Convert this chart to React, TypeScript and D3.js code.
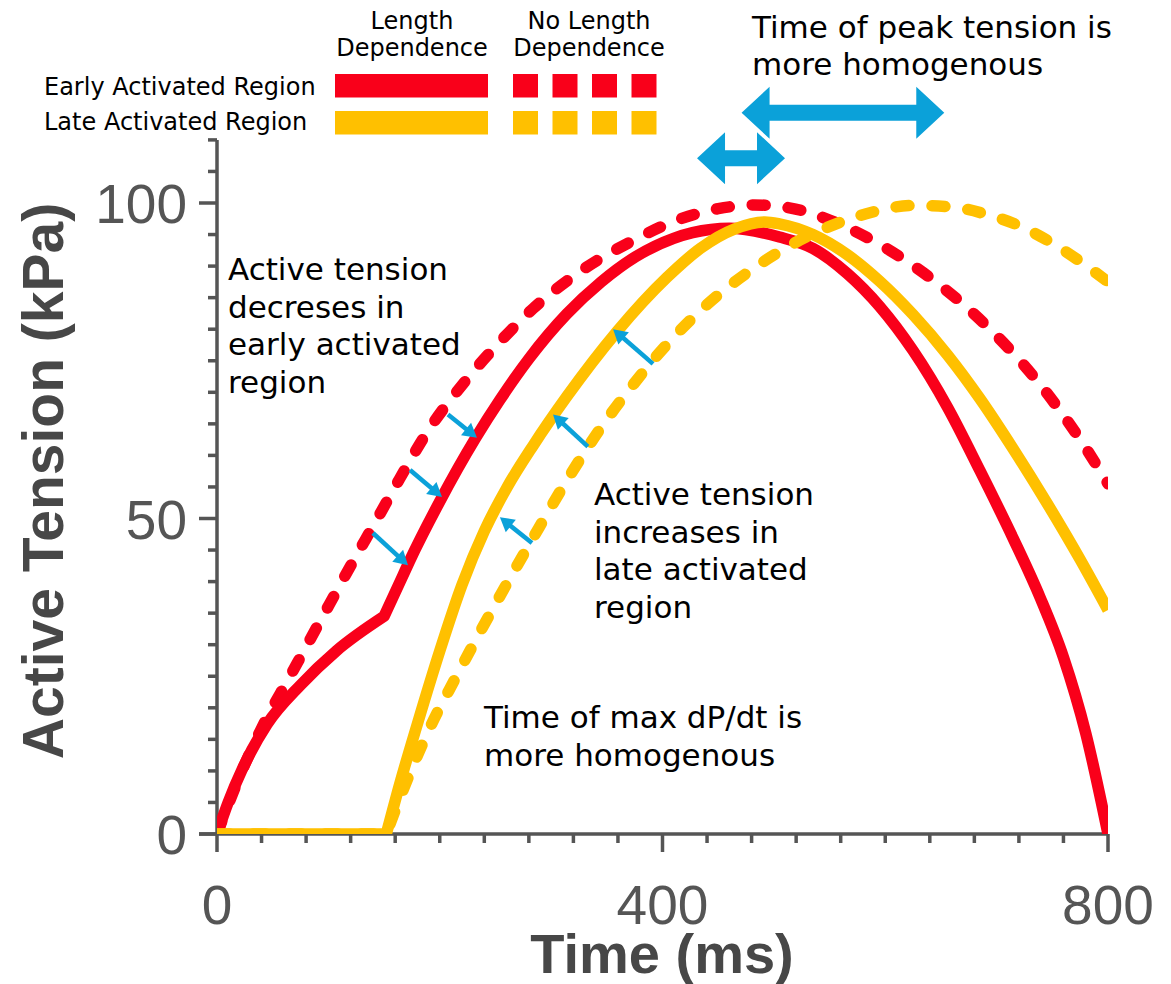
import React from "react";
import * as d3 from "d3";

// ---------- data (time in ms, active tension in kPa) ----------
const earlyLDTime = [0, 10, 23, 45, 75, 107, 150, 167, 173, 200, 232, 254, 280, 314, 345, 376, 410, 427, 460, 505, 535, 566, 595, 625, 656, 685, 715, 739, 760, 780, 800];
const earlyLDTension = [0, 5, 10.4, 17.4, 23.6, 29, 34.5, 41, 43.3, 52.7, 62.7, 68.8, 75.3, 82.4, 87.5, 91.5, 94.4, 95.3, 96, 94.6, 92.8, 88.8, 83.6, 76.6, 67.6, 57.6, 46.8, 37.5, 28, 16, 0];

const earlyNLDTime = [0, 20, 45, 64, 77, 95, 119, 144, 164, 188, 224, 254, 284, 329, 373, 418, 450, 482, 515, 550, 583, 613, 643, 667, 694, 718, 741, 763, 781, 800];
const earlyNLDTension = [0, 9, 18.5, 24.5, 28.7, 34.5, 42.2, 50, 56.3, 63.5, 72, 78, 83.3, 89.5, 94, 97.6, 99.1, 99.7, 99.2, 97.3, 94.6, 91.5, 87.8, 84.4, 80, 75.6, 70.8, 65.6, 60.9, 55.5];

const lateLDTime = [0, 152, 165, 180, 200, 220, 240, 260, 284, 314, 359, 404, 434, 465, 492, 505, 535, 566, 595, 625, 656, 685, 715, 745, 775, 800];
const lateLDTension = [0, 0, 8.5, 17.5, 29, 39.5, 48, 54.8, 61.6, 69.3, 79.6, 88.2, 92.8, 95.9, 97, 96.7, 95, 91.8, 87.6, 82.3, 75.9, 69, 61, 52.5, 43.5, 35.5];

const lateNLDTime = [0, 152, 166, 176, 191, 215, 227, 248, 269, 284, 314, 344, 374, 404, 440, 489, 520, 553, 583, 625, 658, 691, 724, 754, 784, 800];
const lateNLDTension = [0, 0, 6.5, 10.8, 16.8, 25, 29, 35.8, 42.4, 47, 56, 64.2, 71.3, 77.6, 83.9, 90.5, 93.8, 96.5, 98.3, 99.6, 99.4, 98.2, 96.1, 93.2, 89.6, 87.5];

// activation onset (ms) where each trace has a corner
const earlyOnsetBreak = 150;
const lateOnsetBreak = 152;

// small blue arrows: from (time, tension) to (time, tension)
const shiftFromTime = [140, 173.3, 207.4, 282.8, 333, 391.5];
const shiftFromTension = [47.7, 57.7, 66.5, 46.1, 61.4, 74.5];
const shiftToTime = [171.5, 202, 233.4, 254, 301.7, 355.6];
const shiftToTension = [42.6, 53.4, 62.8, 50.2, 66.5, 80];

// peak-time spread arrows: [start, end] in ms, at a tension level
const peakSpreadStart = [431, 471];
const peakSpreadEnd = [510, 653];
const peakSpreadLevel = [107.1, 114.3];

const xMajorTicks = [0, 400, 800];
const yMajorTicks = [0, 50, 100];
const xTickLabels = ["0", "400", "800"];
const yTickLabels = ["0", "50", "100"];

const legendRowLabels = ["Early Activated Region", "Late Activated Region"];
const legendColumnTitles = [["Length", "Dependence"], ["No Length", "Dependence"]];

const noteDecrease = ["Active tension", "decreses in", "early activated", "region"];
const noteIncrease = ["Active tension", "increases in", "late activated", "region"];
const noteDpDt = ["Time of max dP/dt is", "more homogenous"];
const notePeak = ["Time of peak tension is", "more homogenous"];

// ---------- styling ----------
const RED = "#f9001a";
const GOLD = "#ffc000";
const BLUE = "#0ba1d9";
const AXIS = "#555555";
const W = 1171;
const H = 984;

type Pt = { t: number; v: number };
const zip = (t: number[], v: number[]): Pt[] => t.map((d, i) => ({ t: d, v: v[i] }));

export default function App() {
  const x = d3.scaleLinear().domain([0, 800]).range([217, 1108]);
  const y = d3.scaleLinear().domain([0, 100]).range([834, 203]);

  const line = d3
    .line<Pt>()
    .x((d) => x(d.t))
    .y((d) => y(d.v))
    .curve(d3.curveMonotoneX);

  // path with a sharp corner at the break time
  const brokenPath = (data: Pt[], breakT: number) => {
    const k = data.findIndex((d) => d.t === breakT);
    if (k < 0) return line(data) || "";
    const a = line(data.slice(0, k + 1)) || "";
    const b = (line(data.slice(k)) || "").replace(/^M/, "L");
    return a + b;
  };

  const series = [
    { data: zip(earlyNLDTime, earlyNLDTension), color: RED, dashed: true, brk: -1 },
    { data: zip(earlyLDTime, earlyLDTension), color: RED, dashed: false, brk: earlyOnsetBreak },
    { data: zip(lateLDTime, lateLDTension), color: GOLD, dashed: false, brk: lateOnsetBreak },
    { data: zip(lateNLDTime, lateNLDTension), color: GOLD, dashed: true, brk: lateOnsetBreak },
  ];

  const xMinor = d3.range(0, 801, 40).filter((t) => !xMajorTicks.includes(t));
  const yMinor = d3.range(0, 111, 5).filter((v) => !yMajorTicks.includes(v));

  const doubleArrow = (x1: number, x2: number, yc: number) => {
    const half = 8, hl = 28, hh = 26;
    return `M${x1},${yc} L${x1 + hl},${yc - hh} L${x1 + hl},${yc - half} L${x2 - hl},${yc - half} L${x2 - hl},${yc - hh} L${x2},${yc} L${x2 - hl},${yc + hh} L${x2 - hl},${yc + half} L${x1 + hl},${yc + half} L${x1 + hl},${yc + hh} Z`;
  };

  const smallArrows = shiftFromTime.map((_, i) => {
    const x1 = x(shiftFromTime[i]);
    const y1 = y(shiftFromTension[i]);
    const x2 = x(shiftToTime[i]);
    const y2 = y(shiftToTension[i]);
    const len = Math.hypot(x2 - x1, y2 - y1);
    const ux = (x2 - x1) / len;
    const uy = (y2 - y1) / len;
    const nx = -uy;
    const ny = ux;
    const hl = 14, hw = 8;
    const bx = x2 - ux * hl;
    const by = y2 - uy * hl;
    return {
      shaft: { x1, y1, x2: bx + ux * 2, y2: by + uy * 2 },
      head: `M${x2},${y2} L${bx + nx * hw},${by + ny * hw} L${bx - nx * hw},${by - ny * hw} Z`,
    };
  });

  const annoFont = "'DejaVu Sans', sans-serif";
  const tickFont = "'Liberation Sans', Arial, sans-serif";

  const textBlock = (lines: string[], x0: number, y0: number, size: number, lh: number, key: string) => (
    <text key={key} fontFamily={annoFont} fontSize={size} fill="#000">
      {lines.map((l, i) => (
        <tspan key={i} x={x0} y={y0 + i * lh}>
          {l}
        </tspan>
      ))}
    </text>
  );

  return (
    <svg
      width={W}
      height={H}
      viewBox={`0 0 ${W} ${H}`}
      style={{ position: "absolute", left: 0, top: 0, background: "#fff" }}
    >
      <rect x={0} y={0} width={W} height={H} fill="#fff" />
      <defs>
        <clipPath id="plotClip">
          <rect x={x(0)} y={0} width={x(800) - x(0)} height={y(0)} />
        </clipPath>
      </defs>

      {/* axes */}
      <g stroke={AXIS} strokeWidth={3.5} fill="none">
        <line x1={x(0)} x2={x(0)} y1={y(110)} y2={y(0)} />
        <line x1={x(0) - 18} x2={x(800)} y1={y(0)} y2={y(0)} />
        {yMajorTicks.map((v) => (
          <line key={"ym" + v} x1={x(0) - 18} x2={x(0)} y1={y(v)} y2={y(v)} />
        ))}
        {yMinor.map((v) => (
          <line key={"yn" + v} x1={x(0) - 9} x2={x(0)} y1={y(v)} y2={y(v)} />
        ))}
        {xMajorTicks.map((t) => (
          <line key={"xm" + t} x1={x(t)} x2={x(t)} y1={y(0)} y2={y(0) + 18} />
        ))}
        {xMinor.map((t) => (
          <line key={"xn" + t} x1={x(t)} x2={x(t)} y1={y(0)} y2={y(0) + 9} />
        ))}
      </g>

      {/* tick labels */}
      <g fontFamily={tickFont} fontSize={55} fill={AXIS}>
        {yMajorTicks.map((v, i) => (
          <text key={"yl" + v} x={187} y={y(v) + 20} textAnchor="end">
            {yTickLabels[i]}
          </text>
        ))}
        {xMajorTicks.map((t, i) => (
          <text key={"xl" + t} x={x(t)} y={924} textAnchor="middle">
            {xTickLabels[i]}
          </text>
        ))}
      </g>

      {/* axis titles */}
      <text x={662} y={973} textAnchor="middle" fontFamily={tickFont} fontWeight="bold" fontSize={56} fill="#474747">
        Time (ms)
      </text>
      <text
        transform="translate(63,481) rotate(-90)"
        textAnchor="middle"
        fontFamily={tickFont}
        fontWeight="bold"
        fontSize={57}
        fill="#474747"
      >
        Active Tension (kPa)
      </text>

      {/* curves */}
      <g clipPath="url(#plotClip)" fill="none">
        {series.map((s, i) => (
          <path
            key={i}
            d={s.brk >= 0 ? brokenPath(s.data, s.brk) : line(s.data) || ""}
            stroke={s.color}
            strokeWidth={11.5}
            strokeLinecap={s.dashed ? "round" : "butt"}
            strokeLinejoin="round"
            strokeDasharray={s.dashed ? "13 23" : undefined}
          />
        ))}
      </g>

      {/* small shift arrows */}
      <g>
        {smallArrows.map((a, i) => (
          <g key={i}>
            <line {...a.shaft} stroke={BLUE} strokeWidth={4.5} />
            <path d={a.head} fill={BLUE} />
          </g>
        ))}
      </g>

      {/* peak time spread arrows */}
      {peakSpreadStart.map((s, i) => (
        <path key={"pa" + i} d={doubleArrow(x(s), x(peakSpreadEnd[i]), y(peakSpreadLevel[i]))} fill={BLUE} />
      ))}

      {/* legend */}
      <g fontFamily={annoFont} fontSize={24} fill="#000">
        {legendColumnTitles.map((c, i) => (
          <text key={"lc" + i} textAnchor="middle">
            {c.map((l, j) => (
              <tspan key={j} x={i === 0 ? 412 : 589} y={29 + j * 27}>
                {l}
              </tspan>
            ))}
          </text>
        ))}
        {legendRowLabels.map((l, i) => (
          <text key={"lr" + i} x={44} y={95 + i * 35}>
            {l}
          </text>
        ))}
      </g>
      {[RED, GOLD].map((c, i) => (
        <g key={"lg" + i} fill={c}>
          <rect x={335} y={74 + i * 37} width={153} height={23.5} />
          {[0, 1, 2, 3].map((k) => (
            <rect key={k} x={513 + k * 39.5} y={74 + i * 37} width={25} height={23.5} />
          ))}
        </g>
      ))}

      {/* annotations */}
      {textBlock(notePeak, 752, 38, 31, 36.5, "np")}
      {textBlock(noteDecrease, 228, 280, 31, 37.5, "nd")}
      {textBlock(noteIncrease, 594, 505, 31, 37.5, "ni")}
      {textBlock(noteDpDt, 484, 728, 31, 37.5, "nm")}
    </svg>
  );
}
